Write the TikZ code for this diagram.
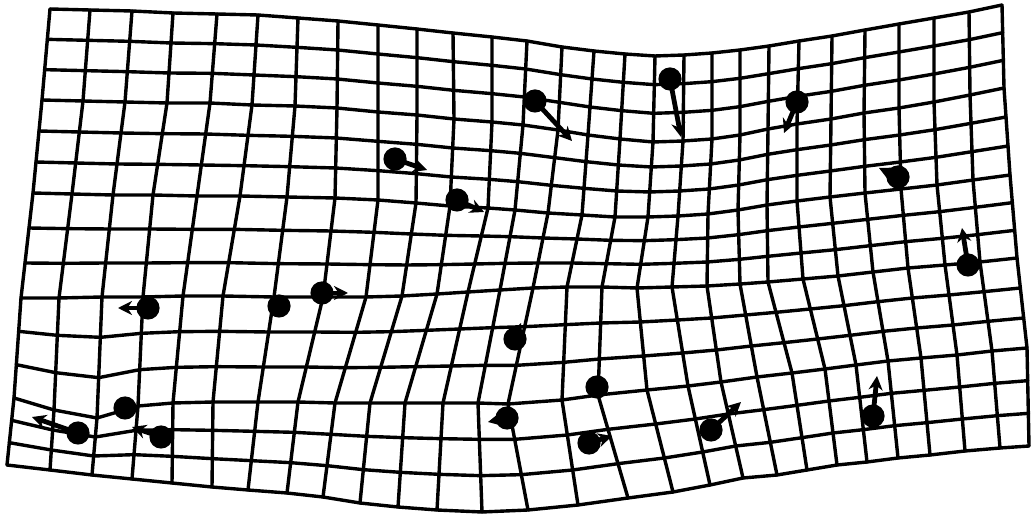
\documentclass[tikz,border=0pt]{standalone}
\usetikzlibrary{calc,arrows.meta}
\tikzset{
  rejilla/.style={line width=1.7pt, line join=round, line cap=round},
  flecha/.style={line width=2.4pt, -{Stealth[length=7pt,width=7pt]}},
  hito/.style={fill=black},
}
\begin{document}
\begin{tikzpicture}[x=0.5pt,y=-0.5pt]
\useasboundingbox (0,0) rectangle (1032,517);
% nudos medidos de la rejilla (filas 0,3,6,9,12,15)
\foreach \x/\y [count=\c from 0] in {50/9,90/10,132/11,173/13,217/14,258/15,298/18,338/21,378/25,417/29,453/33,492/37,527/41,562/47,594/51,625/54,655/56,684/55,712/53,740/50,769/46,799/41,832/36,865/30,899/24,934/18,969/12,1002/5}
  \coordinate (p-\c-0) at (\x,\y);
\foreach \x/\y [count=\c from 0] in {42/100,83/101,125/102,167/103,210/103,252/105,295/106,337/108,378/112,417/115,454/119,492/122,523/125,558/130,588/135,620/139,653/142,683/141,712/139,740/135,768/129,797/124,831/119,864/113,899/108,934/102,970/95,1004/88}
  \coordinate (p-\c-3) at (\x,\y);
\foreach \x/\y [count=\c from 0] in {33/193,72/194,113/195,153/195,197/196,240/196,287/197,335/198,378/200,416/203,450/206,488/208,515/210,548/213,582/215,615/217,648/217,678/216,708/214,738/210,767/205,797/201,830/197,865/193,901/189,937/185,973/180,1010/175}
  \coordinate (p-\c-6) at (\x,\y);
\foreach \x/\y [count=\c from 0] in {21/298,59/298,102/297,143/297,183/296,223/296,274/297,323/297,366/297,402/296,437/294,468/292,500/290,533/288,567/287,602/287,637/288,672/287,707/286,740/284,768/282,803/279,838/276,873/272,908/268,945/265,980/262,1017/258}
  \coordinate (p-\c-9) at (\x,\y);
\foreach \x/\y [count=\c from 0] in {14/398,54/410,97/418,138/406,173/403,213/402,258/402,298/402,335/403,370/403,405/403,443/403,478/403,508/404,562/400,598/395,647/390,688/386,721/382,757/377,792/373,825/369,856/365,888/361,921/358,957/355,992/351,1027/348}
  \coordinate (p-\c-12) at (\x,\y);
\foreach \x/\y [count=\c from 0] in {7/465,50/470,92/475,132/479,172/483,212/487,248/490,287/493,323/497,360/503,398/507,437/510,482/512,528/510,578/505,628/498,673/492,710/485,743/478,777/475,807/470,837/465,867/462,898/458,930/455,965/451,1000/448,1029/446}
  \coordinate (p-\c-15) at (\x,\y);
% filas intermedias
\foreach \r in {1,2,4,5,7,8,10,11,13,14} {
  \pgfmathtruncatemacro\ra{3*int(\r/3)}
  \pgfmathtruncatemacro\rb{\ra+3}
  \pgfmathsetmacro\t{(\r-\ra)/3}
  \foreach \c in {0,...,27}
    \coordinate (p-\c-\r) at ($(p-\c-\ra)!\t!(p-\c-\rb)$);
}
% lineas de la rejilla
\foreach \r in {0,...,15}
  \draw[rejilla] (p-0-\r) \foreach \c in {1,...,27} {-- (p-\c-\r)};
\foreach \c in {0,...,27}
  \draw[rejilla] (p-\c-0) \foreach \r in {1,...,15} {-- (p-\c-\r)};
% hitos con su desplazamiento
\foreach \a/\b/\u/\v [count=\i] in {535/101/572/141,670/79/681/137,797/102/784/133,395/159/427/170,457/200/484/212,898/177/879/168,968/265/962/228,148/308/118/308,322/293/348/293,515/339/521/323,507/418/488/422,589/443/612/436,711/430/741/402,873/416/877/376,78/433/32/417,161/437/132/427} {
  \coordinate (h\i) at (\a,\b);
  \coordinate (f\i) at (\u,\v);
  \draw[flecha] (h\i) -- (f\i);
  \fill[hito] (h\i) circle[radius=5.8pt];
}
% hitos sin flecha
\foreach \a/\b [count=\i] in {279/306,597/387,125/408} {
  \coordinate (g\i) at (\a,\b);
  \fill[hito] (g\i) circle[radius=5.8pt];
}
\end{tikzpicture}
\end{document}
